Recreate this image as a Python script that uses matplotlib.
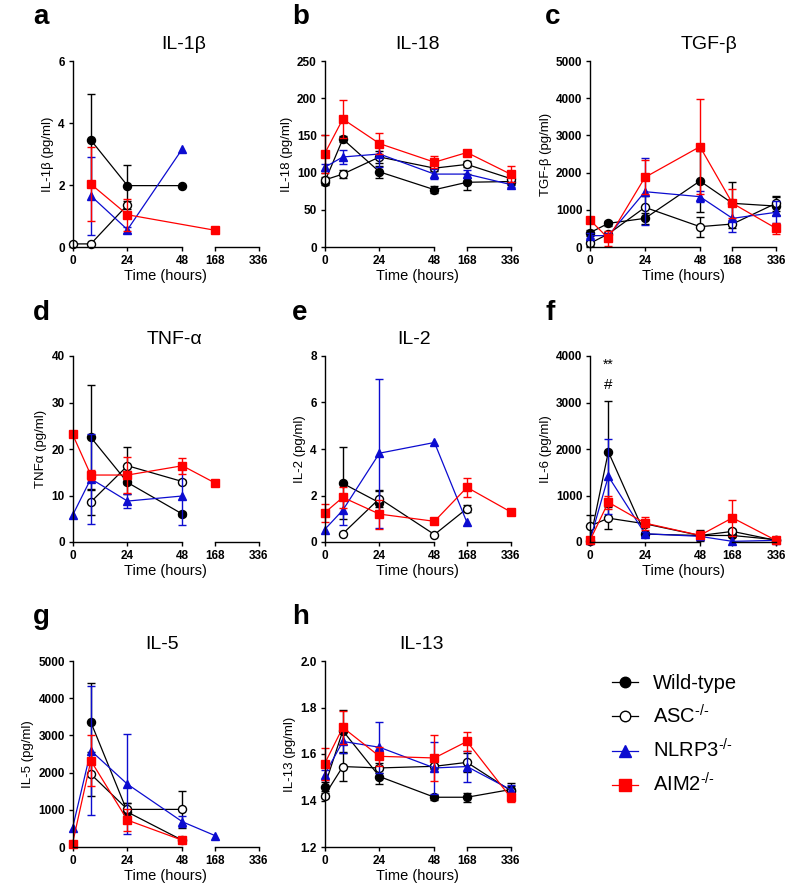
import numpy as np
import matplotlib
matplotlib.use('Agg')
import matplotlib.pyplot as plt
from matplotlib.ticker import FormatStrFormatter

plt.rcParams['font.family'] = ['Liberation Sans', 'DejaVu Sans']
plt.rcParams['mathtext.fontset'] = 'custom'
plt.rcParams['mathtext.rm'] = 'Liberation Sans'

nan = np.nan

hours = [0, 8, 24, 48, 168, 336]
hour_ticks = [0, 24, 48, 168, 336]
genotypes = ['Wild-type', 'ASC$^{\\text{-/-}}$', 'NLRP3$^{\\text{-/-}}$', 'AIM2$^{\\text{-/-}}$']

# rows: wild-type, ASC-/-, NLRP3-/-, AIM2-/-  (columns follow `hours`)
il1b_mean = [[nan, 3.45, 1.98, 1.98, nan, nan],
             [0.10, 0.10, 1.36, nan, nan, nan],
             [nan, 1.65, 0.56, 3.17, nan, nan],
             [nan, 2.03, 1.04, nan, 0.54, nan]]
il1b_sem = [[nan, 1.50, 0.65, nan, nan, nan],
            [nan, nan, 0.12, nan, nan, nan],
            [nan, 1.25, 0.10, nan, nan, nan],
            [nan, 1.18, 0.52, nan, nan, nan]]

il18_mean = [[87, 145, 101, 77, 87, 88],
             [90, 98, 121, 106, 111, 92],
             [107, 121, 125, 98, 98, 84],
             [125, 172, 139, 114, 127, 98]]
il18_sem = [[4, 4, 8, 5, 11, 4],
            [4, 5, 8, 4, 4, 4],
            [5, 10, 18, 7, 5, 4],
            [25, 25, 14, 8, 4, 11]]

tgfb_mean = [[385, 636, 770, 1774, 1174, 1100],
             [100, 350, 1066, 547, 618, 1174],
             [305, 305, 1487, 1353, 770, 932],
             [726, 233, 1873, 2697, 1174, 502]]
tgfb_sem = [[80, 60, 150, 820, 560, 250],
            [60, nan, 300, 270, 100, 200],
            [60, 60, 900, 150, 360, 300],
            [60, 200, 460, 1270, 390, 140]]

tnfa_mean = [[nan, 22.5, 12.8, 6.0, nan, nan],
             [nan, 8.6, 16.4, 13.0, nan, nan],
             [5.7, 13.6, 8.8, 9.9, nan, nan],
             [23.2, 14.4, 14.4, 16.4, 12.7, nan]]
tnfa_sem = [[nan, 11.3, 2.5, 0.5, nan, nan],
            [nan, 2.8, 4.0, 0.4, nan, nan],
            [nan, 9.7, 1.5, 6.3, nan, nan],
            [nan, 1.0, 3.8, 1.7, nan, nan]]

il2_mean = [[nan, 2.52, 1.69, nan, nan, nan],
            [nan, 0.36, 1.87, 0.32, 1.44, nan],
            [0.53, 1.37, 3.82, 4.28, 0.84, nan],
            [1.25, 1.92, 1.20, 0.89, 2.35, 1.30]]
il2_sem = [[nan, 1.55, 0.50, nan, nan, nan],
           [nan, nan, 0.35, nan, 0.15, nan],
           [nan, 0.65, 3.20, nan, nan, nan],
           [0.40, 0.45, 0.62, nan, 0.40, nan]]

il6_mean = [[30, 1940, 170, 140, 140, 50],
            [342, 513, 392, 140, 228, 35],
            [35, 1412, 178, 121, 14, 35],
            [35, 855, 406, 143, 520, 35]]
il6_sem = [[nan, 1090, 40, 120, 40, nan],
           [230, 230, nan, nan, 60, nan],
           [nan, 810, 40, nan, nan, nan],
           [nan, 145, 140, 40, 390, nan]]

il5_mean = [[nan, 3357, 939, 180, nan, nan],
            [nan, 1958, 1011, 1011, nan, nan],
            [505, 2590, 1688, 677, 307, nan],
            [90, 2320, 722, 180, nan, nan]]
il5_sem = [[nan, 1040, 250, nan, nan, nan],
           [nan, 590, 180, 500, nan, nan],
           [nan, 1740, 1350, 150, nan, nan],
           [nan, 680, 300, nan, nan, nan]]

il13_mean = [[1.460, 1.700, 1.503, 1.414, 1.414, 1.447],
             [1.421, 1.546, 1.540, 1.547, 1.564, 1.443],
             [1.510, 1.654, 1.629, 1.540, 1.546, 1.447],
             [1.557, 1.714, 1.590, 1.583, 1.654, 1.414]]
il13_sem = [[0.02, 0.09, 0.03, 0.01, 0.02, 0.03],
            [0.01, 0.06, 0.02, 0.01, 0.04, 0.02],
            [0.02, 0.05, 0.11, 0.11, 0.066, 0.02],
            [0.067, 0.07, 0.04, 0.10, 0.04, 0.02]]

colors = ['black', 'black', '#0c0cd0', '#ff0000']
markers = ['o', 'o', '^', 's']
faces = ['black', 'white', '#0c0cd0', '#ff0000']
msizes = [5.8, 5.8, 6.2, 6.2]

# broken time axis: 0-48 h linear, gap, then 168-336 h compressed
T_KNOTS = np.array([-1e4, 0, 48, 168, 336, 1e4])
X_KNOTS = np.array([-1e4, 0, 48, 62.2, 81.2, 81.2 + (1e4 - 336) * 0.1131])


def fwd(t):
    return np.interp(t, T_KNOTS, X_KNOTS)


def inv(x):
    return np.interp(x, X_KNOTS, T_KNOTS)


fig = plt.figure(figsize=(7.87, 8.89), dpi=100)
FW, FH = 787, 889

panels = [
    ('a', 'IL-1β', 'IL-1β (pg/ml)', il1b_mean, il1b_sem, [0, 2, 4, 6], 0, 0, 0.60),
    ('b', 'IL-18', 'IL-18 (pg/ml)', il18_mean, il18_sem, [0, 50, 100, 150, 200, 250], 0, 1, 0.50),
    ('c', 'TGF-β', 'TGF-β (pg/ml)', tgfb_mean, tgfb_sem, [0, 1000, 2000, 3000, 4000, 5000], 0, 2, 0.64),
    ('d', 'TNF-α', 'TNFα (pg/ml)', tnfa_mean, tnfa_sem, [0, 10, 20, 30, 40], 1, 0, 0.55),
    ('e', 'IL-2', 'IL-2 (pg/ml)', il2_mean, il2_sem, [0, 2, 4, 6, 8], 1, 1, 0.48),
    ('f', '', 'IL-6 (pg/ml)', il6_mean, il6_sem, [0, 1000, 2000, 3000, 4000], 1, 2, 0.5),
    ('g', 'IL-5', 'IL-5 (pg/ml)', il5_mean, il5_sem, [0, 1000, 2000, 3000, 4000, 5000], 2, 0, 0.48),
    ('h', 'IL-13', 'IL-13 (pg/ml)', il13_mean, il13_sem, [1.2, 1.4, 1.6, 1.8, 2.0], 2, 1, 0.52),
]

col_left = [72.5, 324.5, 590]
row_top = [61, 356, 661]
letter_x = [33, 292, 545]
letter_y = [24, 320, 624]
W = H = 186

handles = []
for letter, title, ylab, means, sems, yticks, r, c, tx in panels:
    ax = fig.add_axes([col_left[c] / FW, 1 - (row_top[r] + H) / FH, W / FW, H / FH])
    ax.set_xscale('function', functions=(fwd, inv))
    t = np.array(hours, dtype=float)
    for g in range(4):
        m = np.array(means[g], dtype=float)
        e = np.array(sems[g], dtype=float)
        ok = ~np.isnan(m)
        eok = ok & ~np.isnan(e)
        if eok.any():
            ax.errorbar(t[eok], m[eok], yerr=e[eok], fmt='none', ecolor=colors[g],
                        elinewidth=1.0, capsize=3, capthick=1.0, clip_on=False)
        ln, = ax.plot(t[ok], m[ok], color=colors[g], lw=0.9, marker=markers[g],
                      ms=msizes[g], mfc=faces[g], mec=colors[g], mew=1.0, clip_on=False)
        if letter == 'a':
            handles.append(ln)

    ax.set_xlim(0, 336)
    ax.set_ylim(yticks[0], yticks[-1])
    ax.set_yticks(yticks)
    ax.set_xticks(hour_ticks)
    ax.set_xticks([], minor=True)
    ax.set_xticklabels([str(h) for h in hour_ticks])
    if letter == 'h':
        ax.yaxis.set_major_formatter(FormatStrFormatter('%.1f'))

    for s in ['top', 'right']:
        ax.spines[s].set_visible(False)
    for s in ['left', 'bottom']:
        ax.spines[s].set_linewidth(1.0)
    ax.spines['bottom'].set_bounds(0, 48)
    ax.plot([168, 336], [0, 0], transform=ax.get_xaxis_transform(), color='black',
            lw=1.0, clip_on=False)
    ax.tick_params(direction='out', length=3, width=1.0, pad=2.5, labelsize=8.5)
    for lb in ax.get_xticklabels() + ax.get_yticklabels():
        lb.set_fontweight('bold')

    ax.set_xlabel('Time (hours)', fontsize=10.5, labelpad=1.5)
    ax.set_ylabel(ylab, fontsize=9.5, labelpad=3)
    if title:
        ax.text(tx, 1.065, title, transform=ax.transAxes, ha='center', va='baseline',
                fontsize=14)
    fig.text(letter_x[c] / FW, 1 - letter_y[r] / FH, letter, fontsize=20,
             fontweight='bold', ha='left', va='baseline')

    if letter == 'f':
        ax.text(8, 3720, '**', ha='center', va='baseline', fontsize=10)
        ax.text(8, 3300, '#', ha='center', va='baseline', fontsize=11)

fig.legend(handles, genotypes, loc='center left', bbox_to_anchor=(612 / FW, 1 - 735 / FH),
           frameon=False, fontsize=14.5, handlelength=1.3, handletextpad=0.75,
           labelspacing=0.55, borderpad=0, borderaxespad=0, markerscale=1.3)

fig.savefig('out.png', dpi=100)
